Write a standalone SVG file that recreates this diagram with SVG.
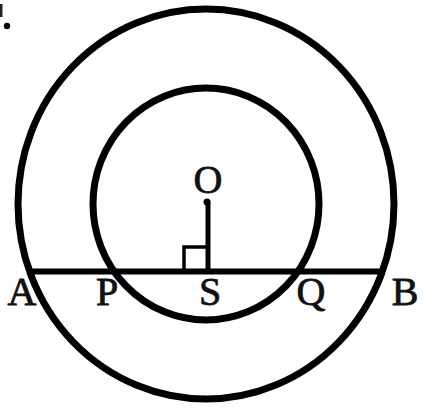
<svg xmlns="http://www.w3.org/2000/svg" width="423" height="416" viewBox="0 0 423 416">
<style>
.c{fill:none;stroke:#000;stroke-width:7}
.l{stroke:#000;fill:none}
.t{font-family:"Liberation Serif","Times New Roman",serif;font-size:40px;fill:#111;stroke:#111;stroke-width:0.8;text-anchor:middle}
</style>
<rect width="423" height="416" fill="#fff"/>
<rect x="0" y="4" width="2.5" height="13" fill="#222"/>
<circle cx="7" cy="26" r="3.2" fill="#000"/>
<g id="outer"><ellipse class="c" cx="206" cy="204" rx="188" ry="195"/></g>
<g id="inner"><ellipse class="c" cx="206" cy="204" rx="113" ry="116"/></g>
<g id="connectors">
<line class="l" x1="29" y1="271.5" x2="385" y2="271.5" stroke-width="6"/>
<line class="l" x1="208" y1="202" x2="208" y2="271" stroke-width="5"/>
<polyline class="l" points="184,271 184,247 208,247" stroke-width="3.5"/>
<circle cx="207" cy="202" r="3.5" fill="#000"/>
</g>
<g id="labels">
<text class="t" x="208" y="193">O</text>
<text class="t" x="22" y="305">A</text>
<text class="t" x="107" y="305">P</text>
<text class="t" x="210" y="305">S</text>
<text class="t" x="311" y="305">Q</text>
<text class="t" x="405" y="305">B</text>
</g>
</svg>
